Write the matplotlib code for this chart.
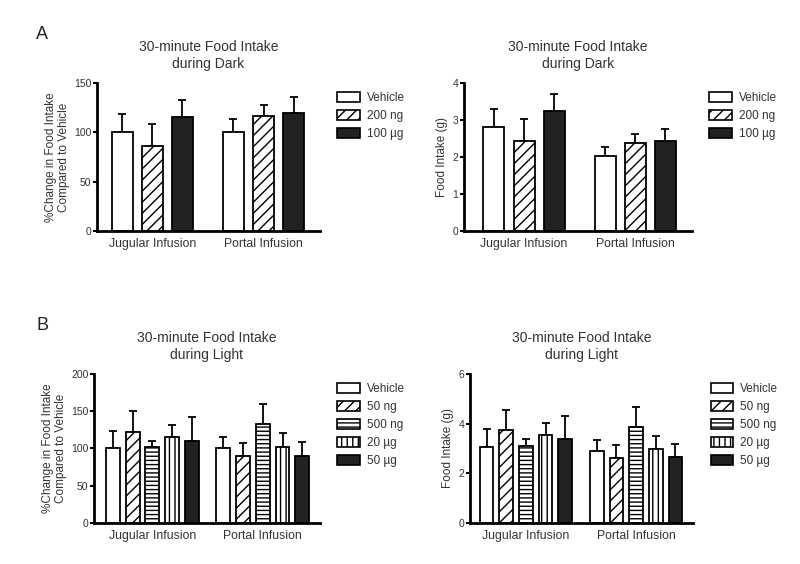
import matplotlib.pyplot as plt
import numpy as np
from matplotlib.patches import Patch

plt.rcParams["font.family"] = ["Liberation Sans", "DejaVu Sans"]

groups = ["Jugular Infusion", "Portal Infusion"]

# Panel A: dark phase
dark_labels = ["Vehicle", "200 ng", "100 \u00b5g"]
dark_pct_mean = [[100, 86.5, 116], [100, 117, 120]]
dark_pct_top = [[118.5, 108, 132.5], [113, 128, 136]]
dark_g_mean = [[2.80, 2.43, 3.24], [2.03, 2.38, 2.43]]
dark_g_top = [[3.30, 3.02, 3.70], [2.28, 2.61, 2.75]]

# Panel B: light phase
light_labels = ["Vehicle", "50 ng", "500 ng", "20 \u00b5g", "50 \u00b5g"]
light_pct_mean = [[100, 122, 101.5, 115.5, 110.5], [100, 90, 133, 101.5, 90]]
light_pct_top = [[123, 150, 110.5, 131, 141.5], [115.5, 107, 159, 120, 109]]
light_g_mean = [[3.05, 3.75, 3.11, 3.53, 3.36], [2.91, 2.63, 3.88, 2.98, 2.64]]
light_g_top = [[3.78, 4.56, 3.38, 4.02, 4.31], [3.34, 3.13, 4.65, 3.51, 3.18]]

dark_styles = [("white", ""), ("white", "///"), ("#222222", "")]
light_styles = [("white", ""), ("white", "///"), ("white", "----"),
                ("white", "|||"), ("#222222", "")]

TXT = "#333333"


def draw_panel(ax, means, tops, labels, styles, group_gap, yticks, ylabel, title, xlim):
    n = len(labels)
    for g, (m, t) in enumerate(zip(means, tops)):
        x0 = g * group_gap
        for i in range(n):
            fc, hatch = styles[i]
            ax.bar(x0 + i, m[i], width=0.7, color=fc, edgecolor="black",
                   linewidth=1.3, hatch=hatch, zorder=2)
            ax.errorbar(x0 + i, m[i], yerr=[[0], [t[i] - m[i]]], color="black",
                        elinewidth=1.3, capsize=3, capthick=1.3, zorder=1)
    centers = [g * group_gap + (n - 1) / 2 for g in range(len(means))]
    ax.set_xticks(centers)
    ax.set_xticklabels(groups, fontsize=8.8, color=TXT)
    ax.tick_params(axis="x", length=0, pad=5)
    ax.set_yticks(yticks)
    ax.set_ylim(yticks[0], yticks[-1])
    ax.set_xlim(*xlim)
    ax.tick_params(axis="y", labelsize=7.5, labelcolor=TXT, width=1.5, length=3, pad=1)
    ax.set_ylabel(ylabel, fontsize=8.5, color=TXT, labelpad=3, linespacing=1.1)
    ax.set_title(title, fontsize=10, color=TXT, pad=11, linespacing=1.2)
    for s in ["top", "right"]:
        ax.spines[s].set_visible(False)
    for s in ["left", "bottom"]:
        ax.spines[s].set_linewidth(2)
    handles = [Patch(facecolor=fc, edgecolor="black", hatch=h, linewidth=1.2)
               for fc, h in styles]
    ax.legend(handles, labels, loc="upper left", bbox_to_anchor=(1.03, 1.01),
              frameon=False, fontsize=8.5, labelcolor=TXT, handlelength=1.9,
              handleheight=0.9, handletextpad=0.6, labelspacing=0.5)


fig = plt.figure(figsize=(8, 5.64), dpi=100)
plt.rcParams["hatch.linewidth"] = 1.0

ax1 = fig.add_axes([0.121, 0.590, 0.279, 0.263])
draw_panel(ax1, dark_pct_mean, dark_pct_top, dark_labels, dark_styles, 3.7,
           [0, 50, 100, 150], "%Change in Food Intake\nCompared to Vehicle",
           "30-minute Food Intake\nduring Dark", (-0.85, 6.58))

ax2 = fig.add_axes([0.580, 0.590, 0.285, 0.263])
draw_panel(ax2, dark_g_mean, dark_g_top, dark_labels, dark_styles, 3.7,
           [0, 1, 2, 3, 4], "Food Intake (g)",
           "30-minute Food Intake\nduring Dark", (-1.0, 6.6))

ax3 = fig.add_axes([0.1175, 0.073, 0.2825, 0.264])
draw_panel(ax3, light_pct_mean, light_pct_top, light_labels, light_styles, 5.6,
           [0, 50, 100, 150, 200], "%Change in Food Intake\nCompared to Vehicle",
           "30-minute Food Intake\nduring Light", (-0.96, 10.5))

ax4 = fig.add_axes([0.5875, 0.073, 0.279, 0.264])
draw_panel(ax4, light_g_mean, light_g_top, light_labels, light_styles, 5.6,
           [0, 2, 4, 6], "Food Intake (g)",
           "30-minute Food Intake\nduring Light", (-0.84, 10.5))

fig.text(0.045, 0.938, "A", fontsize=13, color="#222222", va="center")
fig.text(0.045, 0.422, "B", fontsize=13, color="#222222", va="center")

fig.savefig("out.png", dpi=100, facecolor="white")
